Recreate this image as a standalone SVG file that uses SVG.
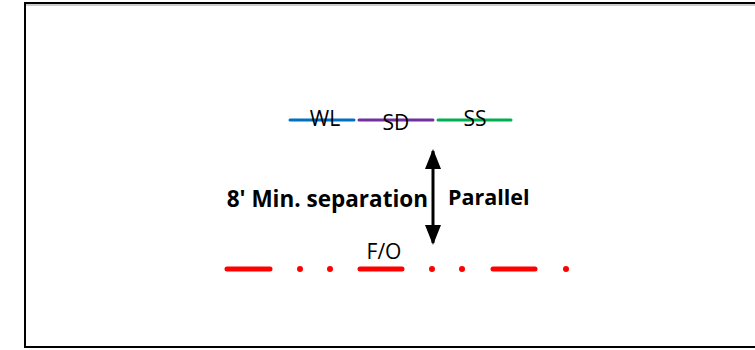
<svg xmlns="http://www.w3.org/2000/svg" width="755" height="350" viewBox="0 0 755 350">
<style>
.lbl{font-family:"Open Sans","Noto Sans","Liberation Sans",sans-serif;font-size:21px;fill:#000}
.bold{font-family:"Open Sans","Noto Sans","Liberation Sans",sans-serif;font-size:21.5px;font-weight:bold;fill:#000}
.wire{stroke-width:3;stroke-linecap:round;fill:none}
.fo{stroke:#ff0000;stroke-width:5;stroke-linecap:round;fill:none}
.dot{stroke:#ff0000;stroke-width:6;stroke-linecap:round;fill:none}
</style>
<defs>
<marker id="ah" viewBox="0 0 20 16" refX="18" refY="8" markerWidth="20" markerHeight="16" orient="auto-start-reverse" markerUnits="userSpaceOnUse">
<path d="M0,0 L20,8 L0,16 z" fill="#000"/>
</marker>
</defs>
<rect x="0" y="0" width="755" height="350" fill="#fff"/>
<rect id="frame" x="25" y="3" width="740" height="344" fill="none" stroke="#000" stroke-width="2"/>
<line x1="26" y1="5" x2="755" y2="5" stroke="#999" stroke-width="1"/>
<g id="WL">
<line class="wire" x1="290" y1="120" x2="354" y2="120" stroke="#0070c0"/>
<text class="lbl" x="325" y="126" text-anchor="middle">WL</text>
</g>
<g id="SD">
<line class="wire" x1="359" y1="120" x2="433" y2="120" stroke="#7030a0"/>
<text class="lbl" x="396" y="130" text-anchor="middle">SD</text>
</g>
<g id="SS">
<line class="wire" x1="438" y1="120" x2="511" y2="120" stroke="#00b050"/>
<text class="lbl" x="475" y="126" text-anchor="middle">SS</text>
</g>
<g id="FO">
<path class="fo" d="M227,269 H270 M360,269 H402 M493,269 H535"/>
<path class="dot" d="M300,269 H300 M330,269 H330 M432,269 H432 M462,269 H462 M566,269 H566"/>
<text class="lbl" x="384" y="259" text-anchor="middle">F/O</text>
</g>
<g id="connectors">
<line x1="433" y1="151" x2="433" y2="243" stroke="#000" stroke-width="3" marker-start="url(#ah)" marker-end="url(#ah)"/>
</g>
<text class="bold" x="428" y="207" text-anchor="end" style="font-size:22.5px">8' Min. separation</text>
<text class="bold" x="448" y="205">Parallel</text>
</svg>
